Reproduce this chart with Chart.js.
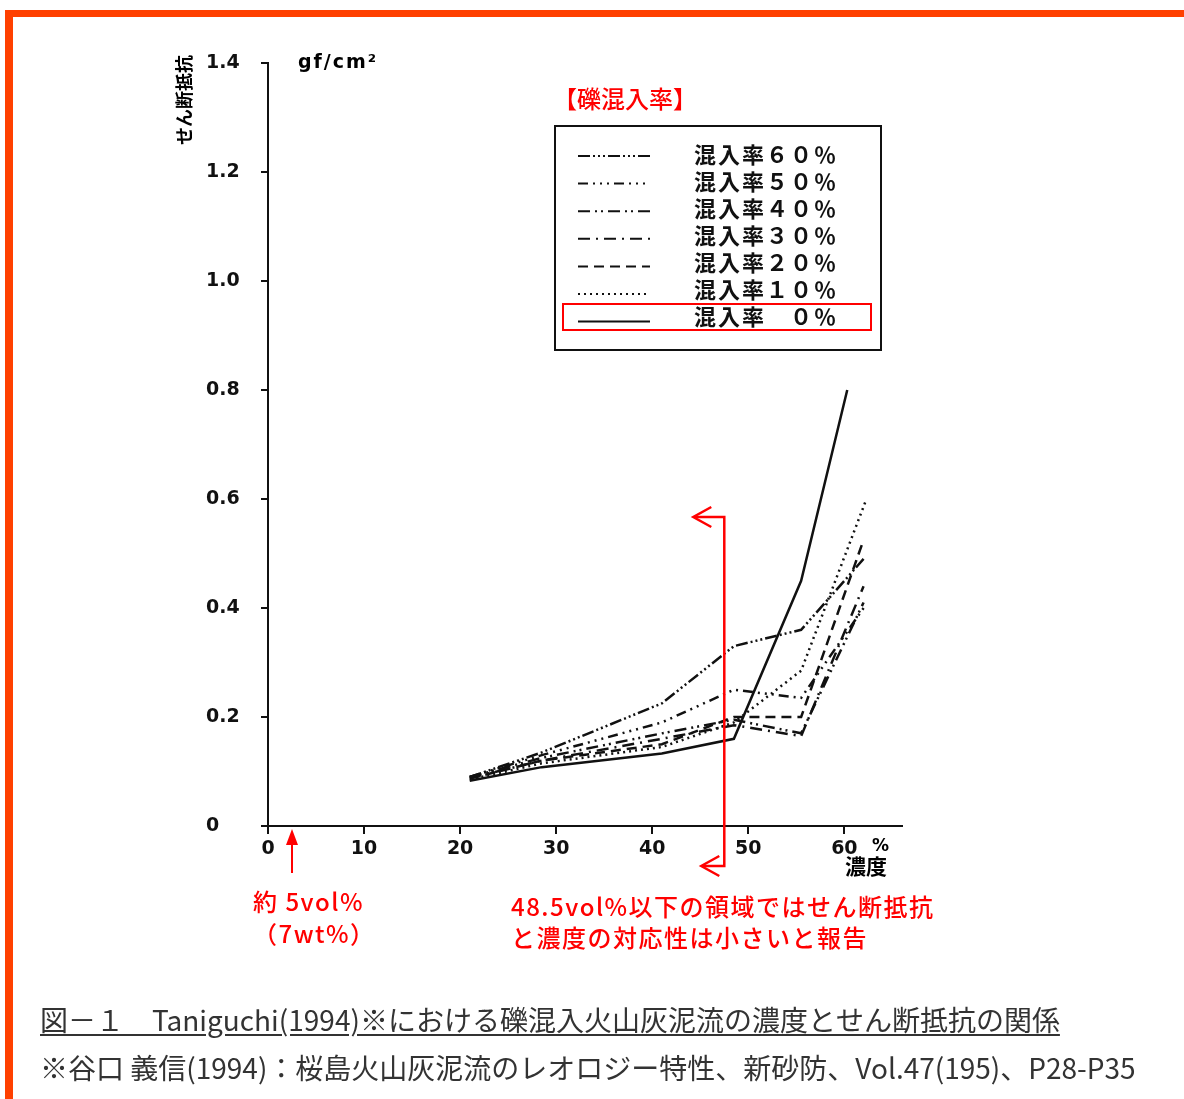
<!DOCTYPE html>
<html lang="ja">
<head>
<meta charset="utf-8">
<script src="https://cdn.jsdelivr.net/npm/chart.js@4/dist/chart.umd.min.js"></script>
<style>
	body { margin: 0; background: #fff; }
	#page { position: relative; width: 1184px; height: 1099px; overflow: hidden; background: #fff; font-family: "Noto Sans CJK JP", "Noto Sans", sans-serif; }
	#frame { position: absolute; left: 5px; top: 10px; width: 1300px; height: 1200px; border-top: 7px solid #ff4000; border-left: 8px solid #ff4000; }
	#chart { position: absolute; left: 0; top: 0; }
	.t { position: absolute; white-space: nowrap; line-height: 1; }
	.red { color: #ff0000; font-weight: 500; font-size: 24px; letter-spacing: 1.5px; }
	.bold { font-weight: bold; }
</style>
</head>
<body>
<div id="page">
	<div id="frame"></div>
	<canvas id="chart" width="1184" height="1099"></canvas>

	<div class="t bold" style="left:138px; top:91px; width:90px; font-size:18px; transform:rotate(-90deg); text-align:center;">せん断抵抗</div>
	<div class="t bold" style="left:298px; top:52px; font-size:19px; font-family:'DejaVu Sans'; letter-spacing:2px;">gf/cm²</div>
	<div class="t bold" style="left:872px; top:837px; font-size:17px; font-family:'DejaVu Sans';">%</div>
	<div class="t bold" style="left:845px; top:855px; font-size:21px;">濃度</div>

	<div class="t red" style="left:553px; top:86px; letter-spacing:0;">【礫混入率】</div>

	<div class="t red" style="left:253px; top:889px;">約 5vol%</div>
	<div class="t red" style="left:253px; top:921px;">（7wt%）</div>
	<div class="t red" style="left:511px; top:894px;">48.5vol%以下の領域ではせん断抵抗</div>
	<div class="t red" style="left:511px; top:925px;">と濃度の対応性は小さいと報告</div>

	<div class="t" style="left:40px; top:1005px; font-size:28px; color:#333; text-decoration:underline; text-underline-offset:3px;">図－１　Taniguchi(1994)※における礫混入火山灰泥流の濃度とせん断抵抗の関係</div>
	<div class="t" style="left:40px; top:1053px; font-size:28px; color:#333;">※谷口 義信(1994)：桜島火山灰泥流のレオロジー特性、新砂防、Vol.47(195)、P28-P35</div>
</div>

<script>
// concentration (%) where each curve was measured
const conc = [21, 28.5, 41, 48.5, 55.5, 62];
const conc0 = [21, 28.5, 41, 48.5, 55.5, 60.3];
const conc10 = [21, 28.5, 41, 48.5, 55.5, 62.3];

// shear resistance (gf/cm2), one array per gravel mixing rate
const mix60 = [0.090, 0.135, 0.225, 0.330, 0.360, 0.490];
const mix50 = [0.090, 0.130, 0.190, 0.250, 0.235, 0.400];
const mix40 = [0.090, 0.125, 0.170, 0.195, 0.170, 0.410];
const mix30 = [0.088, 0.120, 0.160, 0.185, 0.165, 0.440];
const mix20 = [0.087, 0.120, 0.150, 0.200, 0.200, 0.525];
const mix10 = [0.085, 0.115, 0.145, 0.190, 0.285, 0.600];
const mix0 = [0.083, 0.108, 0.133, 0.160, 0.450, 0.800];

const legendLabels = ['混入率６０％', '混入率５０％', '混入率４０％', '混入率３０％', '混入率２０％', '混入率１０％', '混入率　０％'];
const yTicks = [0, 0.2, 0.4, 0.6, 0.8, 1.0, 1.2, 1.4];

function pts(xs, ys) {
	return xs.map((x, i) => ({ x: x, y: ys[i] }));
}

function line(label, xs, ys, dash) {
	return {
		label: label,
		data: pts(xs, ys),
		borderColor: '#111',
		borderWidth: 2.5,
		borderDash: dash,
		pointRadius: 0,
		tension: 0,
		fill: false,
	};
}

// legend box drawn inside the canvas
const boxLegend = {
	id: 'boxLegend',
	afterDraw(chart) {
		const ctx = chart.ctx;
		ctx.save();
		ctx.strokeStyle = '#111';
		ctx.lineWidth = 2;
		ctx.strokeRect(555, 126, 326, 224);

		chart.data.datasets.forEach((ds, i) => {
			const y = 155 + i * 27;
			ctx.beginPath();
			ctx.setLineDash(ds.borderDash);
			ctx.lineWidth = 2;
			ctx.moveTo(578, y + 1 + i * 0.6);
			ctx.lineTo(650, y + 1 + i * 0.6);
			ctx.stroke();
			ctx.setLineDash([]);
			ctx.fillStyle = '#111';
			ctx.font = 'bold 22px "Noto Sans CJK JP"';
			ctx.textBaseline = 'middle';
			ctx.letterSpacing = '2px';
			ctx.fillText(ds.label, 694, y);
		});

		// red frame on the 0% row
		ctx.strokeStyle = '#ff0000';
		ctx.lineWidth = 2;
		ctx.strokeRect(563, 304, 308, 26);
		ctx.restore();
	},
};

// red annotation arrows
const notes = {
	id: 'notes',
	afterDraw(chart) {
		const ctx = chart.ctx;
		const xs = chart.scales.x;
		const ys = chart.scales.y;
		ctx.save();
		ctx.strokeStyle = '#ff0000';
		ctx.fillStyle = '#ff0000';
		ctx.lineWidth = 2.5;

		// bracket at ~48.5vol%
		const bx = xs.getPixelForValue(47.5);
		const top = ys.getPixelForValue(0.567);
		const bot = ys.getPixelForValue(0) + 40;
		ctx.beginPath();
		ctx.moveTo(bx - 30, top);
		ctx.lineTo(bx, top);
		ctx.lineTo(bx, bot);
		ctx.lineTo(bx - 22, bot);
		ctx.stroke();
		ctx.beginPath();
		ctx.moveTo(bx - 13, top - 10);
		ctx.lineTo(bx - 31, top);
		ctx.lineTo(bx - 13, top + 10);
		ctx.stroke();
		ctx.beginPath();
		ctx.moveTo(bx - 5, bot - 10);
		ctx.lineTo(bx - 23, bot);
		ctx.lineTo(bx - 5, bot + 10);
		ctx.stroke();

		// small arrow at ~5vol%
		const ax = xs.getPixelForValue(2.5);
		const ay = ys.getPixelForValue(0) + 3;
		ctx.lineWidth = 2;
		ctx.beginPath();
		ctx.moveTo(ax, ay + 14);
		ctx.lineTo(ax, ay + 44);
		ctx.stroke();
		ctx.beginPath();
		ctx.moveTo(ax, ay);
		ctx.lineTo(ax - 6, ay + 16);
		ctx.lineTo(ax + 6, ay + 16);
		ctx.closePath();
		ctx.fill();
		ctx.restore();
	},
};

new Chart(document.getElementById('chart'), {
	type: 'line',
	data: {
		datasets: [
			line(legendLabels[0], conc, mix60, [12, 3, 2, 3, 2, 3, 2, 3]),
			line(legendLabels[1], conc, mix50, [10, 5, 2, 5, 2, 5, 2, 5]),
			line(legendLabels[2], conc, mix40, [12, 5, 2, 4, 2, 5]),
			line(legendLabels[3], conc, mix30, [12, 6, 2, 6]),
			line(legendLabels[4], conc, mix20, [10, 6]),
			line(legendLabels[5], conc10, mix10, [2, 4]),
			line(legendLabels[6], conc0, mix0, []),
		],
	},
	options: {
		responsive: false,
		animation: false,
		layout: {
			padding: { left: 206, top: 63, right: 282, bottom: 213 },
		},
		plugins: {
			legend: { display: false },
			tooltip: { enabled: false },
		},
		scales: {
			x: {
				type: 'linear',
				min: 0,
				max: 66,
				afterFit: (scale) => { scale.height = 60; },
				border: { color: '#111', width: 2 },
				grid: { drawOnChartArea: false, color: '#111', lineWidth: 2, tickLength: 8 },
				ticks: {
					stepSize: 10,
					includeBounds: false,
					padding: 4,
					color: '#111',
					font: { family: 'DejaVu Sans', weight: 'bold', size: 19 },
				},
			},
			y: {
				min: 0,
				max: 1.4,
				afterFit: (scale) => { scale.width = 62; },
				afterBuildTicks: (scale) => { scale.ticks = yTicks.map((v) => ({ value: v })); },
				border: { color: '#111', width: 2 },
				grid: { drawOnChartArea: false, color: '#111', lineWidth: 2, tickLength: 7 },
				ticks: {
					crossAlign: 'far',
					padding: 18,
					color: '#111',
					font: { family: 'DejaVu Sans', weight: 'bold', size: 19 },
					callback: (v) => (v === 0 ? '0' : v.toFixed(1)),
				},
			},
		},
	},
	plugins: [boxLegend, notes],
});
</script>
</body>
</html>
